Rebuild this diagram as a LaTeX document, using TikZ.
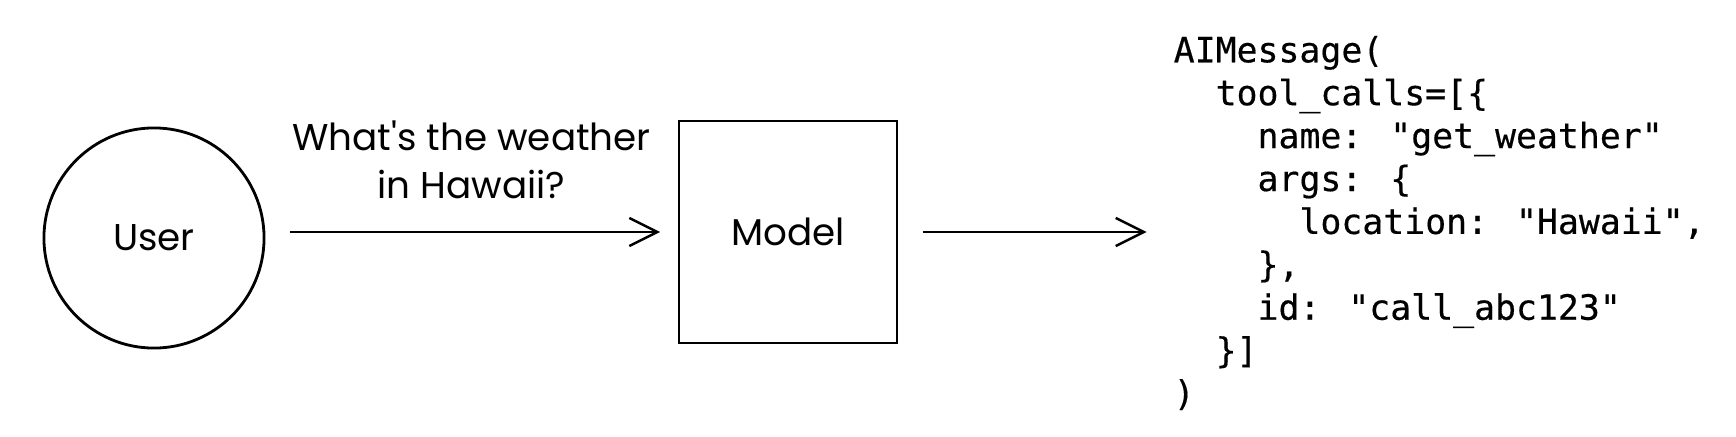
\documentclass[tikz,border=0pt]{standalone}
\usepackage{fontspec}
\newfontfamily\codefont{DejaVu Sans Mono}[FakeBold=0.4]
\newfontfamily\handfont{Poppins}
\usetikzlibrary{arrows.meta,positioning}

\begin{document}
\begin{tikzpicture}[
  x=0.01cm, y=-0.01cm,
  hand/.style={font=\handfont\fontsize{10.6}{13.8}\selectfont, align=center},
  circ/.style={draw, circle, line width=0.8pt, minimum size=2.2cm, hand},
  box/.style={draw, rectangle, line width=0.65pt, minimum width=2.18cm,
              minimum height=2.22cm, hand},
  arr/.style={-{Straight Barb[length=8pt, width=8pt]}, line width=0.7pt,
              shorten <=7pt, shorten >=5pt},
  code/.style={font=\codefont\fontsize{9.9}{12.2}\selectfont, align=left,
               inner sep=0pt}
]
\useasboundingbox (0,0) rectangle (1736,436);

\node[circ] (user) at (154,238) {User};
\node[box] (model) at (788,232) {Model};
\node[code, anchor=west] (msg) at (1173,223) {%
AIMessage(\\
\phantom{xx}tool\_calls=[\{\\
\phantom{xxxx}name: "get\_weather"\\
\phantom{xxxx}args: \{\\
\phantom{xxxxxx}location: "Hawaii",\\
\phantom{xxxx}\},\\
\phantom{xxxx}id: "call\_abc123"\\
\phantom{xx}\}]\\
)};

\draw[arr] (user.east |- model.west) -- (model.west)
  node[midway, above=0.2cm, hand] (q) {What's the weather\\in Hawaii?};
\draw[arr, shorten >=7.5pt] (model.east) -- (model.east -| msg.west);
\end{tikzpicture}
\end{document}
